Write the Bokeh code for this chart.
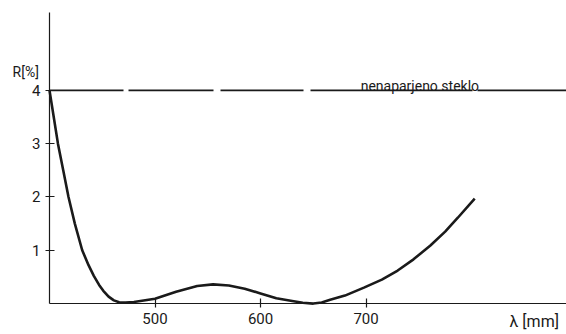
from bokeh.plotting import figure
from bokeh.models import Label, FixedTicker, Range1d
from bokeh.embed import file_html
from bokeh.resources import INLINE

# data
wavelength = [400, 404, 408, 413, 418, 424, 431, 437, 442, 447, 451, 456, 461, 466,
              472, 480, 500, 520, 540, 555, 570, 585, 600, 615, 630, 640, 650, 658,
              666, 680, 698, 715, 730, 745, 761, 775, 787, 803]
reflect = [4.0, 3.5, 3.0, 2.5, 2.0, 1.5, 1.0, 0.72, 0.52, 0.35, 0.24, 0.13, 0.06, 0.025,
           0.02, 0.03, 0.09, 0.22, 0.33, 0.36, 0.34, 0.28, 0.19, 0.10, 0.05, 0.015, 0.0,
           0.02, 0.07, 0.15, 0.30, 0.45, 0.62, 0.83, 1.09, 1.35, 1.61, 1.97]
uncoated_level = 4.0
x_ticks = [500, 600, 700]
y_ticks = [1, 2, 3, 4]

FONT = "Roboto"
INK = "#1a1a1a"

X0, X1 = 353.55, 890.0
Y0, Y1 = -0.58, 5.685

p = figure(width=566, height=334, output_backend="svg", toolbar_location=None,
           x_range=Range1d(X0, X1), y_range=Range1d(Y0, Y1),
           min_border_left=0, min_border_right=0, min_border_top=0, min_border_bottom=0)
p.outline_line_color = None
p.xgrid.visible = False
p.ygrid.visible = False
p.background_fill_color = "white"
p.border_fill_color = "white"

for ax in (p.xaxis[0], p.yaxis[0]):
    ax.axis_line_color = INK
    ax.axis_line_width = 1.2
    ax.major_tick_line_color = INK
    ax.major_tick_line_width = 1.2
    ax.major_tick_in = 5
    ax.major_tick_out = 4
    ax.minor_tick_line_color = None
    ax.major_label_text_font = FONT
    ax.major_label_text_font_size = "15px"
    ax.major_label_text_color = INK

p.xaxis.ticker = FixedTicker(ticks=x_ticks)
p.yaxis.ticker = FixedTicker(ticks=y_ticks)
p.xaxis.fixed_location = 0
p.yaxis.fixed_location = 400
p.xaxis.bounds = (400, X1)
p.yaxis.bounds = (0, 5.46)
p.xaxis.major_label_standoff = 5
p.yaxis.major_label_standoff = 5

# uncoated glass reference line
p.line([400, X1], [uncoated_level, uncoated_level], line_color=INK, line_width=1.6,
       line_dash="74 5 85 7 83 7 162 5 200")

# reflectance curve
p.line(wavelength, reflect, line_color=INK, line_width=2.6)

p.add_layout(Label(x=751, y=3.94, text="nenaparjeno steklo", text_font=FONT,
                   text_font_size="14px", text_color=INK, text_baseline="bottom",
                   text_align="center"))
p.add_layout(Label(x=365, y=4.2, text="R[%]", text_font=FONT,
                   text_font_size="14px", text_color=INK, text_baseline="bottom"))
p.add_layout(Label(x=836, y=-0.52, text="λ [mm]", text_font=FONT,
                   text_font_size="16px", text_color=INK, text_baseline="bottom"))

open("out.html", "w").write(file_html(p, INLINE))
